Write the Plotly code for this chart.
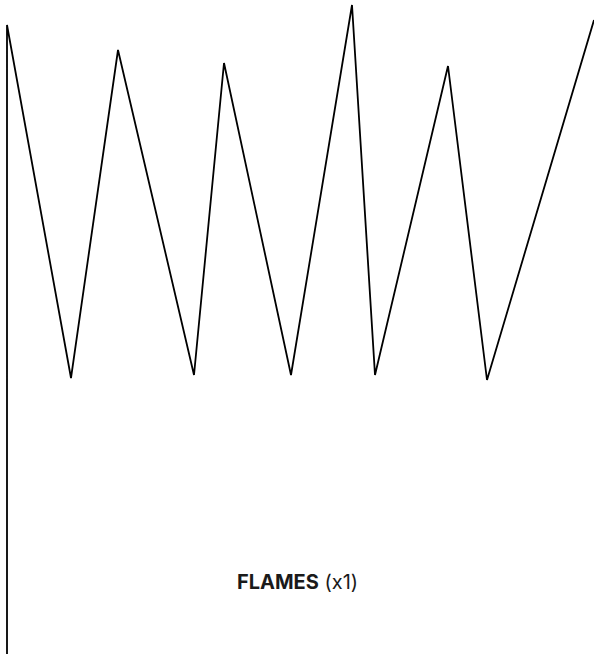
import plotly.graph_objects as go

# Flame profile samples (position, height)
positions = [7, 7, 71, 118, 194, 224, 291, 352, 375, 448, 487, 594]
heights = [-10, 629, 276, 604, 279, 591, 279, 649, 279, 588, 274, 634]
label_main = "FLAMES"
label_mult = "(x1)"

fig = go.Figure()
fig.add_trace(go.Scatter(
    x=positions, y=heights, mode="lines",
    line=dict(color="#000000", width=1.8),
    hoverinfo="skip", showlegend=False,
))

fig.add_annotation(
    x=0.5, y=72, xref="paper", yref="y",
    text=f"<b>{label_main}</b> {label_mult}",
    showarrow=False,
    font=dict(family="Inter, Noto Sans, sans-serif", size=20, color="#1a1a1a"),
)

fig.update_layout(
    width=594, height=654,
    margin=dict(l=0, r=0, t=0, b=0),
    paper_bgcolor="white", plot_bgcolor="white",
    xaxis=dict(range=[0, 594], visible=False, fixedrange=True),
    yaxis=dict(range=[0, 654], visible=False, fixedrange=True),
)

fig.write_html("out.html", config={"displayModeBar": False},
               post_script="document.body.style.margin='0';")
